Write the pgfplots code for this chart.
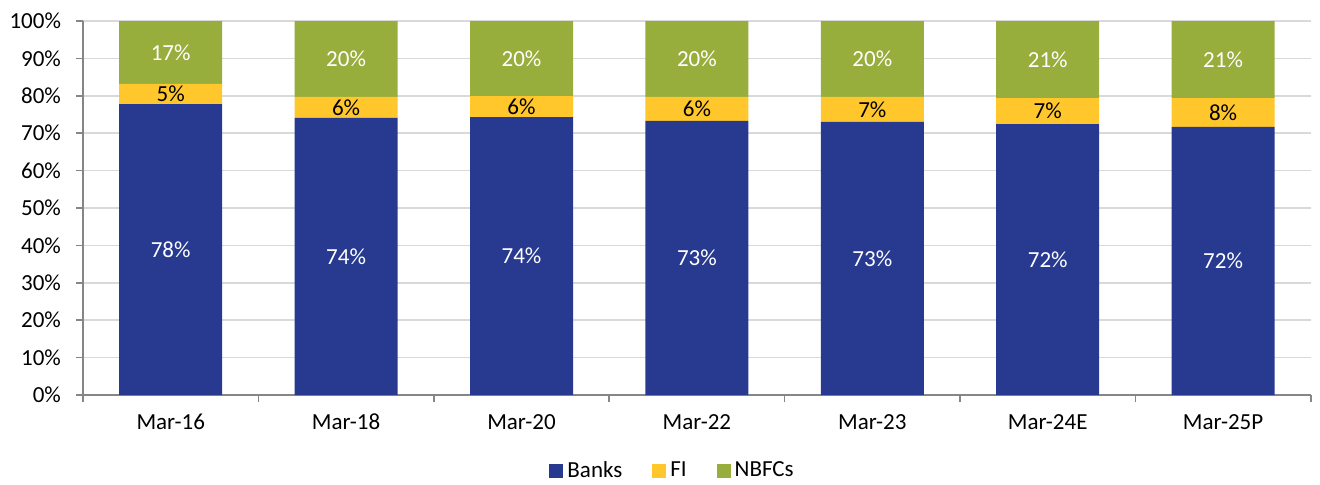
\documentclass[border=0pt]{standalone}
\usepackage{pgfplots}
\usepackage{pgfplotstable}
\pgfplotsset{compat=1.18}
\usepackage{fontspec}
\setmainfont{Carlito}
\definecolor{cBanks}{HTML}{283A90}
\definecolor{cFI}{HTML}{FFC72C}
\definecolor{cNB}{HTML}{97AD3C}
\definecolor{cAxis}{HTML}{868686}
\definecolor{cGrid}{HTML}{D9D9D9}
\pgfplotstableread{
x b fi nb
0 77.8 5.4 16.8
1 74.1 5.6 20.3
2 74.3 5.6 20.1
3 73.3 6.4 20.3
4 73.0 6.7 20.3
5 72.4 7.0 20.6
6 71.7 7.7 20.6
}\data
\begin{document}
\begin{tikzpicture}[font=\fontsize{11.5}{14}\selectfont]
\path[use as bounding box] (-41.5pt,-44.5pt) rectangle (618.5pt,197.5pt);
\begin{axis}[
  ybar stacked,
  x=87.7pt, y=1.87pt,
  bar width=51.5pt,
  xmin=-0.5, xmax=6.5, ymin=0, ymax=100,
  axis x line*=bottom, axis y line*=left,
  axis line style={cAxis, line width=0.8pt, -},
  xtick={0,...,6},
  xticklabels={Mar-16,Mar-18,Mar-20,Mar-22,Mar-23,Mar-24E,Mar-25P},
  minor xtick={-0.5,0.5,...,6.5},
  ytick={0,10,...,100},
  yticklabel={\pgfmathprintnumber{\tick}\%},
  /pgf/number format/assume math mode=true,
  tick align=outside,
  major tick length=3.5pt,
  minor tick length=3.5pt,
  x tick style={draw=none},
  minor x tick style={draw=cAxis, line width=0.8pt},
  y tick style={draw=cAxis, line width=0.8pt},
  ymajorgrids, major grid style={cGrid, line width=0.8pt},
  yticklabel style={xshift=-4pt},
  xticklabel style={yshift=-2.5pt},
  legend columns=3,
  legend style={at={(0.481,-0.203)}, anchor=center, draw=none, fill=none,
    /tikz/every even column/.append style={column sep=13pt},
    font=\fontsize{11.5}{14}\selectfont},
  point meta=explicit,
  nodes near coords={\pgfmathprintnumber[fixed,precision=0]{\pgfplotspointmeta}\%},
  every node near coord/.append style={anchor=center, font=\fontsize{11.5}{14}\selectfont},
]
\addplot[fill=cBanks, draw=none,
  every node near coord/.append style={text=white},
  legend image code/.code={\fill[cBanks] (0pt,-3.5pt) rectangle (7pt,3.5pt);}]
  table[x=x, y=b, meta=b] {\data};
\addplot[fill=cFI, draw=none,
  every node near coord/.append style={text=black},
  legend image code/.code={\fill[cFI] (0pt,-3.5pt) rectangle (7pt,3.5pt);}]
  table[x=x, y=fi, meta=fi] {\data};
\addplot[fill=cNB, draw=none,
  every node near coord/.append style={text=white},
  legend image code/.code={\fill[cNB] (0pt,-3.5pt) rectangle (7pt,3.5pt);}]
  table[x=x, y=nb, meta=nb] {\data};
\legend{Banks,FI,NBFCs}
\end{axis}
\end{tikzpicture}
\end{document}
